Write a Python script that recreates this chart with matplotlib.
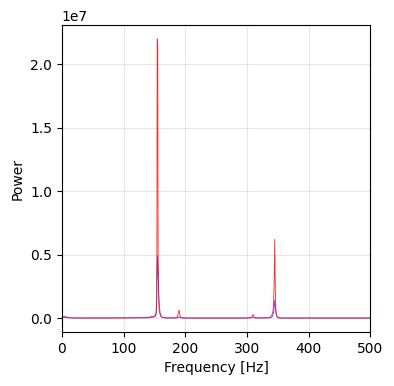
import matplotlib

matplotlib.use("Agg")

import matplotlib.pyplot as plt

# spectrum samples (Hz, power)
freq_red = [0, 2, 4, 6, 8, 10, 14, 20, 100, 140, 144, 146, 148, 150, 152, 153, 154, 154.6, 155.4, 156, 157, 158, 160,
            163, 170, 185, 187, 188, 189, 190, 191, 192, 194, 200, 300, 306, 308, 309, 310, 311, 312, 314, 320,
            336, 338, 340, 342, 343, 344, 345, 346, 347, 348, 350, 354, 400, 500]
power_red = [0.05e6, 0.12e6, 0.08e6, 0.14e6, 0.06e6, 0.03e6, 0.02e6, 0.0, 0.0, 0.03e6, 0.1e6, 0.15e6, 0.08e6,
             0.18e6, 0.2e6, 0.6e6, 5.0e6, 22.0e6, 21.5e6, 5.0e6, 1.2e6, 0.5e6, 0.15e6,
             0.05e6, 0.0, 0.02e6, 0.1e6, 0.25e6, 0.45e6, 0.65e6, 0.3e6, 0.1e6, 0.02e6, 0.0, 0.0, 0.02e6, 0.1e6,
             0.2e6, 0.28e6, 0.15e6, 0.05e6, 0.0, 0.0,
             0.02e6, 0.08e6, 0.2e6, 0.5e6, 1.0e6, 2.5e6, 6.2e6, 2.0e6, 0.6e6, 0.2e6, 0.05e6, 0.0, 0.0, 0.0]

freq_blue = [0, 3, 6, 10, 20, 140, 146, 150, 152, 153, 154, 155, 156, 157, 158, 159, 160, 162, 165, 170,
             185, 189, 190, 191, 195, 300, 310, 320, 338, 341, 343, 344, 345, 346, 347, 349, 352, 400, 500]
power_blue = [0.03e6, 0.06e6, 0.05e6, 0.02e6, 0.0, 0.02e6, 0.06e6, 0.08e6, 0.15e6, 0.4e6, 1.8e6, 4.9e6, 3.5e6,
              2.0e6, 1.0e6, 0.5e6, 0.25e6, 0.08e6, 0.02e6, 0.0,
              0.0, 0.05e6, 0.1e6, 0.04e6, 0.0, 0.0, 0.04e6, 0.0, 0.02e6, 0.1e6, 0.4e6, 0.8e6, 1.4e6, 0.9e6,
              0.35e6, 0.08e6, 0.0, 0.0, 0.0]

fig, ax = plt.subplots(figsize=(3.94, 3.86), dpi=100)
ax.plot(freq_blue, power_blue, color="blue", lw=0.6, alpha=0.7)
ax.plot(freq_red, power_red, color="red", lw=0.6, alpha=0.85)
ax.set_xlim(0, 500)
ax.set_xlabel("Frequency [Hz]")
ax.set_ylabel("Power")
ax.grid(True, alpha=0.3)
fig.subplots_adjust(left=0.157, right=0.94, top=0.935, bottom=0.14)
fig.savefig("out.png", dpi=100)
